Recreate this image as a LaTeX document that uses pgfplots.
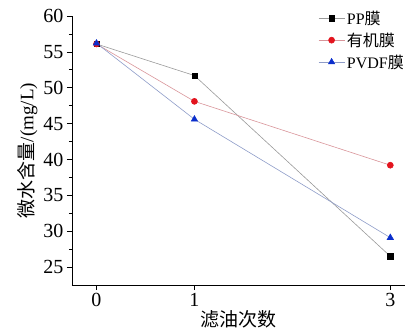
\documentclass[border=0pt]{standalone}
\usepackage{fontspec}
\setmainfont{Liberation Serif}
\newfontfamily\cjk{Noto Sans CJK SC}
\usepackage{pgfplots}
\pgfplotsset{compat=1.18}
\definecolor{ppline}{HTML}{9A9A9A}
\definecolor{orgline}{HTML}{D9959A}
\definecolor{pvline}{HTML}{8E9CC8}
\definecolor{orgmark}{HTML}{E3141E}
\definecolor{pvmark}{HTML}{0A2ECC}
\begin{document}
\begin{tikzpicture}
\begin{axis}[
  at={(0,0)}, anchor=south west,
  scale only axis, width=333pt, height=269pt,
  xmin=-0.25, xmax=3.15, ymin=22.5, ymax=60,
  axis x line*=bottom, axis y line*=left,
  xtick={0,1,3}, ytick={25,30,...,60},
  minor y tick num=1,
  tick align=outside,
  major tick length=5pt, minor tick length=3pt,
  tick style={black, line width=0.6pt},
  axis line style={black, line width=0.7pt},
  /pgf/number format/assume math mode=true,
  ticklabel style={font=\fontsize{20}{22}\selectfont},
  xlabel={\cjk 滤油次数}, ylabel={\cjk 微水含量\rmfamily/(mg/L)},
  label style={font=\fontsize{19}{21}\selectfont},
  xlabel style={yshift=3pt},
  ylabel style={yshift=-1pt},
  legend style={draw=none, fill=none, at={(0.73,1.035)}, anchor=north west,
    font=\fontsize{16}{18}\selectfont, row sep=3pt},
  legend cell align=left,
  legend image code/.code={
    \draw[mark repeat=2,mark phase=2] plot coordinates {(0pt,0pt) (13pt,0pt) (26pt,0pt)};
  },
  clip=false,
]
\addplot[ppline, line width=0.6pt, mark=square*, mark size=2.6pt, mark options={fill=black, draw=black}]
  coordinates {(0,56.1) (1,51.7) (3,26.5)};
\addlegendentry{PP{\cjk 膜}}
\addplot[orgline, line width=0.6pt, mark=*, mark size=3pt, mark options={fill=orgmark, draw=orgmark}]
  coordinates {(0,56.1) (1,48.1) (3,39.2)};
\addlegendentry{{\cjk 有机膜}}
\addplot[pvline, line width=0.6pt, mark=triangle*, mark size=3.6pt, mark options={fill=pvmark, draw=pvmark}]
  coordinates {(0,56.2) (1,45.6) (3,29.1)};
\addlegendentry{PVDF{\cjk 膜}}
\end{axis}
\pgfresetboundingbox
\useasboundingbox (-72pt,-47pt) rectangle (337pt,285pt);
\end{tikzpicture}
\end{document}
